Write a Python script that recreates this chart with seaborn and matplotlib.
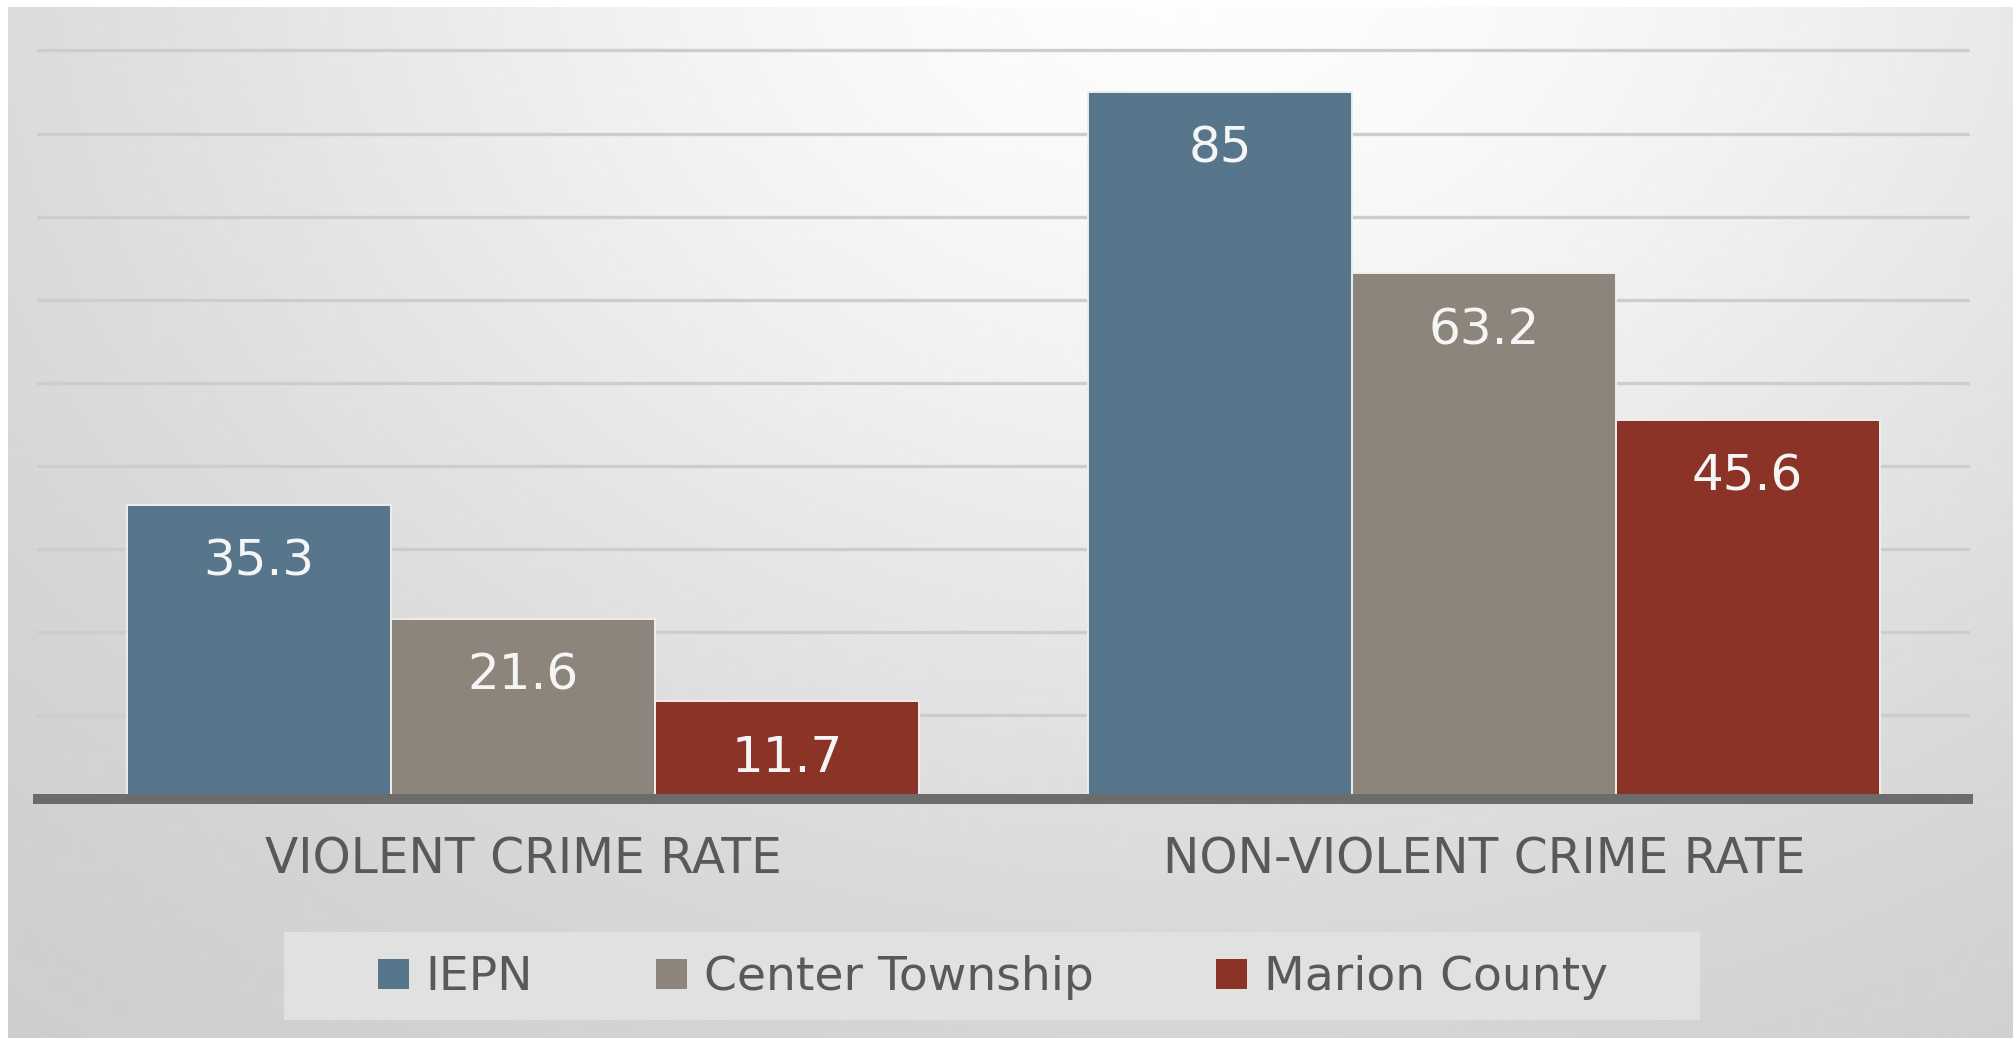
import numpy as np
import pandas as pd
import matplotlib
matplotlib.use("Agg")
import matplotlib.pyplot as plt
import seaborn as sns
from matplotlib.patches import Patch, Rectangle

# ---- data -------------------------------------------------------------
categories = ["VIOLENT CRIME RATE", "NON-VIOLENT CRIME RATE"]
areas = ["IEPN", "Center Township", "Marion County"]
iepn = [35.3, 85]
center_township = [21.6, 63.2]
marion_county = [11.7, 45.6]
area_colors = ["#57768c", "#8d857b", "#8b3327"]

series = [iepn, center_township, marion_county]
df = pd.DataFrame(
    [(cat, area, val)
     for area, vals in zip(areas, series)
     for cat, val in zip(categories, vals)],
    columns=["category", "area", "rate"],
)

# ---- style ------------------------------------------------------------
sns.set_theme(style="white")
plt.rcParams["font.family"] = ["DejaVu Sans"]

W, H, DPI = 2015, 1038, 100
fig = plt.figure(figsize=(W / DPI, H / DPI), dpi=DPI, facecolor="white")

# soft grey radial backdrop behind the chart
bg = fig.add_axes([8 / W, 0, (W - 10) / W, (H - 7) / H], zorder=-10)
bg.axis("off")
yy, xx = np.mgrid[0:H - 7:3, 0:W - 10:3].astype(float)
X, Y = xx + 8, yy + 7
d = np.sqrt(((X - 1200) / 1.3) ** 2 + (Y + 50) ** 2)
shade = 0.99 - 0.2 * (1 - np.exp(-(d / 900) ** 2))
bg.imshow(shade, cmap="gray", vmin=0, vmax=1, aspect="auto",
          interpolation="bilinear")

# ---- bars -------------------------------------------------------------
ax = fig.add_axes([38 / W, (H - 798.5) / H, 1930 / W, 748 / H])
ax.set_facecolor("none")
sns.barplot(
    data=df, x="category", y="rate", hue="area",
    order=categories, hue_order=areas, palette=area_colors,
    width=0.824, gap=0, saturation=1, errorbar=None, legend=False,
    edgecolor="#eeeeee", linewidth=1.4, ax=ax, zorder=2,
)

ax.set_ylim(0, 90)
ax.set_xlim(-0.505, 1.504)
ax.set_yticks(np.arange(0, 91, 10))
ax.tick_params(axis="y", length=0, labelleft=False)
ax.yaxis.grid(True, color="#cdcdcd", linewidth=2.4)
ax.xaxis.grid(False)
ax.set_axisbelow(True)
for gl in ax.get_ygridlines():
    gl.set_clip_on(False)

for side in ("left", "right", "top"):
    ax.spines[side].set_visible(False)
ax.spines["bottom"].set_color("#6c6c6c")
ax.spines["bottom"].set_linewidth(7.2)
ax.spines["bottom"].set_zorder(3)

ax.tick_params(axis="x", length=0, pad=27, labelsize=35, labelcolor="#595959")
ax.set_xlabel("")
ax.set_ylabel("")

# value labels inside the top of each bar
for container, vals in zip(ax.containers, series):
    for bar, v in zip(container, vals):
        ax.annotate(
            f"{v:g}",
            xy=(bar.get_x() + bar.get_width() / 2, v),
            xytext=(0, -51), textcoords="offset points",
            ha="center", va="baseline",
            fontsize=36, color="#f5f5f5", zorder=5,
        )

# ---- legend -----------------------------------------------------------
fig.add_artist(Rectangle((284 / W, 1 - 1020 / H), 1416 / W, 88 / H,
                         transform=fig.transFigure, facecolor="#e1e1e1",
                         edgecolor="none", zorder=1))
handles = [Patch(facecolor=c, edgecolor="none") for c in area_colors]
fig.legend(
    handles, areas, ncol=3, loc="center",
    bbox_to_anchor=(993 / W, 1 - 978 / H), frameon=False,
    fontsize=34, labelcolor="#595959",
    handlelength=0.65, handleheight=0.58, handletextpad=0.36,
    columnspacing=2.6,
)

fig.savefig("out.png", dpi=DPI, facecolor="white")
